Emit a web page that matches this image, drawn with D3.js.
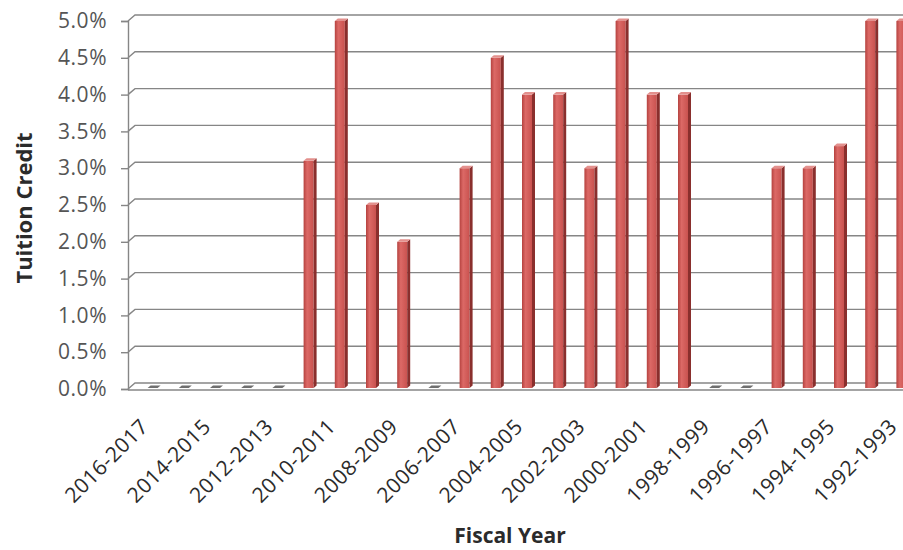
<!DOCTYPE html>
<html>
<head>
<meta charset="utf-8">
<script src="https://cdn.jsdelivr.net/npm/d3@7/dist/d3.min.js"></script>
<style>
  body { margin: 0; background: #fff; }
  svg { display: block; }
  text { font-family: "Open Sans", sans-serif; }
</style>
</head>
<body>
<svg id="chart" width="903" height="550"></svg>
<script>
// fiscal years, newest first (chart is cut off on the right after 1992-1993)
var years = ["2016-2017","2015-2016","2014-2015","2013-2014","2012-2013","2011-2012",
  "2010-2011","2009-2010","2008-2009","2007-2008","2006-2007","2005-2006","2004-2005",
  "2003-2004","2002-2003","2001-2002","2000-2001","1999-2000","1998-1999","1997-1998",
  "1996-1997","1995-1996","1994-1995","1993-1994","1992-1993"];
var credit = [0, 0, 0, 0, 0, 0.031,
  0.05, 0.025, 0.02, 0, 0.03, 0.045, 0.04,
  0.04, 0.03, 0.05, 0.04, 0.04, 0, 0,
  0.03, 0.03, 0.033, 0.05, 0.05];
var yTicks = [0, 0.005, 0.01, 0.015, 0.02, 0.025, 0.03, 0.035, 0.04, 0.045, 0.05];

var svg = d3.select("#chart");
var axisX = 128, dx = 7, dy = -6;   // depth offset of the back wall

var x = d3.scaleBand().domain(years).range([138, 138 + 31.2 * years.length]);
var y = d3.scaleLinear().domain([0, 0.05]).range([389, 21]);

var defs = svg.append("defs");
var grad = defs.append("linearGradient").attr("id", "barGrad")
  .attr("x1", "0%").attr("x2", "100%").attr("y1", "0%").attr("y2", "0%");
grad.append("stop").attr("offset", "0%").attr("stop-color", "#b5423f");
grad.append("stop").attr("offset", "35%").attr("stop-color", "#dc6966");
grad.append("stop").attr("offset", "100%").attr("stop-color", "#c9524f");

// back wall gridlines with the little depth step
var grid = svg.append("g");
yTicks.forEach(function (t) {
  grid.append("path")
    .attr("d", "M" + axisX + "," + y(t) + "L" + (axisX + dx) + "," + (y(t) + dy) + "L903," + (y(t) + dy))
    .attr("fill", "none").attr("stroke", "#868686").attr("stroke-width", 1.4);
});

// floor
svg.append("line").attr("x1", axisX).attr("x2", 903).attr("y1", y(0) + 1).attr("y2", y(0) + 1)
  .attr("stroke", "#868686").attr("stroke-width", 1.4);

// y axis
var yAxis = d3.axisLeft(y).tickValues(yTicks).tickFormat(d3.format(".1%")).tickSize(7).tickPadding(14);
var ya = svg.append("g").attr("transform", "translate(" + axisX + ",0)").call(yAxis);
ya.select(".domain").attr("stroke", "#868686").attr("stroke-width", 1.4);
ya.selectAll(".tick line").attr("stroke", "#868686").attr("stroke-width", 1.4);
ya.selectAll(".tick text").attr("fill", "#555").style("font-size", "21px")
  .style("letter-spacing", "0.5px").attr("font-family", "Open Sans");

// bars (front face, side face, top)
var bw = 10, side = 3, lift = 2.5;
var bars = svg.append("g").selectAll("g").data(years).join("g");
bars.each(function (d, i) {
  var g = d3.select(this);
  var v = credit[i];
  var x0 = x(d) + x.bandwidth() / 2 - bw / 2 - 1;
  var yb = y(0) - 1, yt = y(v);
  if (v > 0) {
    g.append("rect").attr("x", x0).attr("y", yt).attr("width", bw).attr("height", yb - yt)
      .attr("fill", "url(#barGrad)");
    g.append("path")
      .attr("d", "M" + (x0 + bw) + "," + yt + "L" + (x0 + bw + side) + "," + (yt - lift) +
        "L" + (x0 + bw + side) + "," + (yb - lift) + "L" + (x0 + bw) + "," + yb + "Z")
      .attr("fill", "#8a2f2d");
    g.append("path")
      .attr("d", "M" + x0 + "," + yt + "L" + (x0 + side) + "," + (yt - lift) +
        "L" + (x0 + bw + side) + "," + (yt - lift) + "L" + (x0 + bw) + "," + yt + "Z")
      .attr("fill", "#e3908d");
  } else {
    g.append("path")
      .attr("d", "M" + x0 + "," + (yb) + "L" + (x0 + side) + "," + (yb - lift) +
        "L" + (x0 + bw + side) + "," + (yb - lift) + "L" + (x0 + bw) + "," + yb + "Z")
      .attr("fill", "#6f6f6f");
  }
});

// x tick labels, every other year
svg.append("g").selectAll("text")
  .data(years.filter(function (d, i) { return i % 2 === 0; }))
  .join("text")
  .attr("transform", function (d) {
    return "translate(" + (x(d) + x.bandwidth() / 2 - 4) + ",428) rotate(-45)";
  })
  .attr("text-anchor", "end")
  .attr("fill", "#2b2b2b")
  .style("font-size", "21px")
  .style("letter-spacing", "0.5px")
  .text(function (d) { return d; });

// axis titles
svg.append("text")
  .attr("transform", "translate(32,208) rotate(-90)")
  .attr("text-anchor", "middle")
  .attr("fill", "#2b2b2b").style("font-size", "22px").style("font-weight", "bold")
  .text("Tuition Credit");

svg.append("text")
  .attr("x", 510).attr("y", 543)
  .attr("text-anchor", "middle")
  .attr("fill", "#2b2b2b").style("font-size", "21px").style("font-weight", "bold")
  .text("Fiscal Year");
</script>
</body>
</html>
